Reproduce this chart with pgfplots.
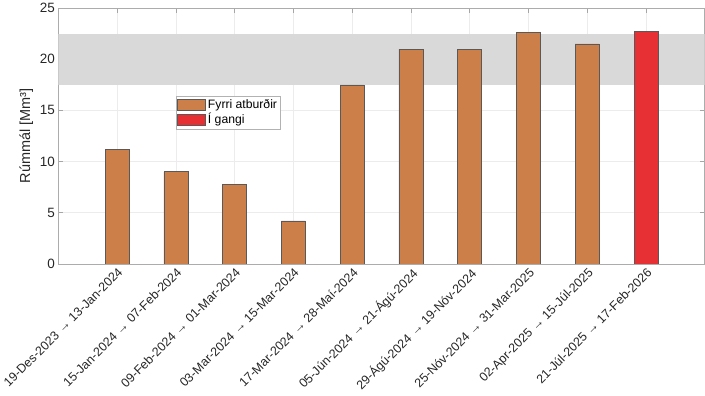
\documentclass[border=0pt]{standalone}
\usepackage{pgfplots}
\pgfplotsset{compat=1.18}
\usepackage{fontspec}
\setmainfont{Liberation Sans}
\definecolor{barc}{RGB}{205,127,74}
\definecolor{redc}{RGB}{230,48,52}
\definecolor{bandc}{RGB}{217,217,217}
\definecolor{txt}{RGB}{38,38,38}
\begin{document}
\begin{tikzpicture}
\begin{axis}[
  scale only axis, width=647pt, height=256pt,
  xmin=0, xmax=11, ymin=0, ymax=25,
  xtick={1,...,10},
  xticklabels={19-Des-2023 → 13-Jan-2024, 15-Jan-2024 → 07-Feb-2024, 09-Feb-2024 → 01-Mar-2024, 03-Mar-2024 → 15-Mar-2024, 17-Mar-2024 → 28-Maí-2024, 05-Jún-2024 → 21-Ágú-2024, 29-Ágú-2024 → 19-Nóv-2024, 25-Nóv-2024 → 31-Mar-2025, 02-Apr-2025 → 15-Júl-2025, 21-Júl-2025 → 17-Feb-2026},
  x tick label style={rotate=45, anchor=north east, inner sep=2pt, font=\fontsize{12.5}{14}\selectfont, text=txt},
  ytick={0,5,...,25},
  y tick label style={font=\fontsize{13.5}{15}\selectfont, text=txt},
  /pgf/number format/assume math mode=true,
  tick align=inside, major tick length=5pt,
  tick style={gray!70, line width=0.5pt},
  grid=major, grid style={gray!15, line width=0.5pt},
  axis line style={gray!65, line width=0.6pt},
  ylabel={Rúmmál [Mm³]},
  ylabel style={font=\fontsize{14.5}{16}\selectfont, text=txt},
  legend style={at={(0.1818,0.655)}, anchor=north west, outer sep=0pt, draw=gray!60, font=\fontsize{12.2}{14}\selectfont, inner sep=1.5pt, row sep=-1pt, legend cell align=left},
  legend image code/.code={\draw[#1] (0pt,-5.5pt) rectangle (28pt,5.5pt);},
]
\addplot[fill=bandc, draw=none, forget plot] coordinates {(0,17.5) (11,17.5) (11,22.5) (0,22.5)} -- cycle;
\addplot[ybar, bar width=24pt, fill=barc, draw=black!65, line width=0.6pt] coordinates {(1,11.2) (2,9.0) (3,7.8) (4,4.2) (5,17.5) (6,21.0) (7,21.0) (8,22.6) (9,21.5)};
\addlegendentry{Fyrri atburðir}
\addplot[ybar, bar width=24pt, fill=redc, draw=black!65, line width=0.6pt] coordinates {(10,22.7)};
\addlegendentry{Í gangi}
\end{axis}
\end{tikzpicture}
\end{document}
